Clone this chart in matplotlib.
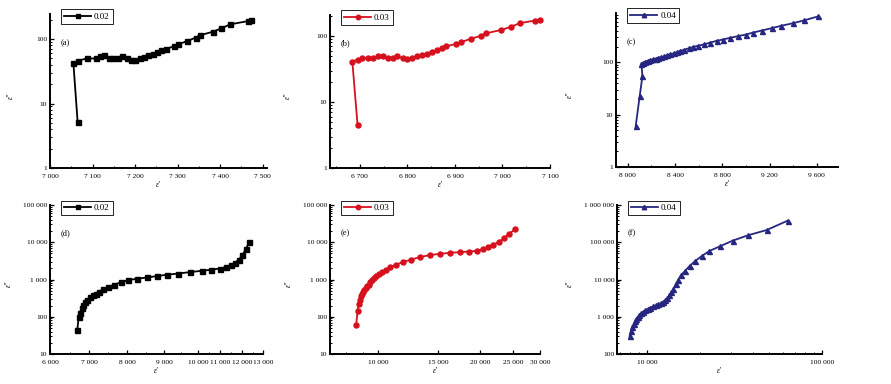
import numpy as np
import matplotlib
matplotlib.use("Agg")
import matplotlib.pyplot as plt
from matplotlib.ticker import FuncFormatter, FixedLocator, LogLocator, NullFormatter, AutoMinorLocator

plt.rcParams['font.family'] = ['Liberation Serif', 'DejaVu Serif']
plt.rcParams['font.size'] = 5.5

# (a) 0.02, top row
a_x = [7065, 7055, 7065, 7086, 7107, 7118, 7128, 7138, 7149, 7159, 7169, 7180, 7190, 7200, 7211,
       7221, 7231, 7241, 7251, 7261, 7272, 7292, 7302, 7322, 7342, 7353, 7383, 7403, 7423, 7465, 7473]
a_y = [5.1, 42, 46, 50, 50, 54, 56, 51, 51, 51, 54, 50, 48, 48, 50,
       52, 56, 59, 62, 67, 71, 77, 83, 93, 105, 115, 130, 147, 169, 190, 195]

# (b) 0.03, top row
b_x = [6695, 6684, 6695, 6705, 6716, 6727, 6738, 6748, 6759, 6770, 6779, 6790, 6800, 6810, 6821,
       6831, 6842, 6852, 6862, 6873, 6882, 6903, 6913, 6934, 6955, 6966, 6996, 7017, 7037, 7068, 7078]
b_y = [4.5, 41, 44, 46, 46, 46, 49, 50, 46, 46, 49, 46, 45, 46, 49,
       51, 54, 58, 61, 65, 70, 76, 81, 91, 101, 110, 123, 137, 157, 171, 175]

# (c) 0.04, top row
c_x = [8067, 8101, 8124, 8115, 8129, 8149, 8171, 8191, 8213, 8236, 8258, 8284, 8306, 8331, 8360,
       8387, 8415, 8444, 8480, 8516, 8556, 8598, 8648, 8696, 8752, 8803, 8865, 8929, 9000, 9061,
       9134, 9218, 9299, 9400, 9491, 9611]
c_y = [6.1, 23, 55, 93, 97, 103, 108, 111, 114, 118, 123, 127, 130, 136, 143,
       149, 156, 166, 175, 186, 198, 209, 222, 239, 258, 273, 295, 316, 341, 372,
       407, 451, 501, 562, 634, 757]

# (d) 0.02, bottom row
d_x = [6700, 6736, 6769, 6813, 6854, 6905, 6956, 7026, 7097, 7176, 7263, 7376, 7508, 7658, 7834,
       8035, 8262, 8532, 8803, 9079, 9421, 9765, 10168, 10577, 11000, 11273, 11500, 11682, 11864,
       12014, 12190, 12348]
d_y = [45, 98, 130, 171, 210, 248, 285, 330, 375, 420, 475, 545, 625, 720, 840,
       964, 1045, 1132, 1233, 1337, 1449, 1578, 1711, 1820, 1972, 2148, 2430, 2805, 3436,
       4508, 6530, 10450]
# (d) axis is drawn unevenly in the source: tick values and where they sit along the axis
d_scale_val = [5000, 6000, 7000, 8000, 9000, 10000, 11000, 12000, 13000, 14000]
d_scale_pos = [11, 50, 89, 127, 164, 198, 220, 242, 263, 284]

# (e) 0.03, bottom row
e_x = [8600, 8680, 8740, 8800, 8860, 8920, 9010, 9090, 9170, 9260, 9360, 9470, 9600, 9730, 9860,
       10020, 10230, 10540, 10860, 11310, 11810, 12510, 13230, 14170, 15170, 16280, 17400, 18530,
       19540, 20430, 21110, 21850, 22660, 23460, 24270, 25320]
e_y = [60, 139, 219, 286, 350, 396, 448, 507, 588, 649, 734, 831, 964, 1091, 1256,
       1396, 1578, 1820, 2148, 2523, 2926, 3436, 3981, 4508, 4887, 5200, 5430, 5636,
       5875, 6653, 7530, 8670, 10070, 12880, 16480, 22450]

# (f) 0.04, bottom row
f_x = [7910, 8060, 8200, 8340, 8500, 8646, 8800, 9000, 9200, 9450, 9740, 10040, 10400, 10780, 11160,
       11570, 11990, 12360, 12690, 13030, 13380, 13740, 14110, 14540, 15010, 15540, 16470, 17500,
       18800, 20520, 22630, 26030, 30800, 37700, 48300, 63500]
f_y = [304, 414, 541, 639, 755, 871, 985, 1114, 1239, 1342, 1489, 1614, 1750, 1909, 2029,
       2158, 2296, 2489, 2767, 3186, 3837, 4616, 5663, 7570, 9700, 12970, 17220, 23440,
       31400, 42760, 58230, 77830, 110200, 153800, 213300, 378700]

W, H = 891, 384


def box(l, r, t, b):
    return [l / W, 1 - b / H, (r - l) / W, (b - t) / H]


def spaced(v, pos):
    return f"{v:,.0f}".replace(",", " ")


def d_fwd(v):
    return np.interp(v, d_scale_val, d_scale_pos)


def d_inv(p):
    return np.interp(p, d_scale_pos, d_scale_val)


panels = [
    dict(px=(50, 267, 14, 168), lx=15, x=a_x, y=a_y, c='black', m='s', lab='0.02', tag='(a)',
         xlim=(7000, 7510), ylim=(1, 245), xt=[7000, 7100, 7200, 7300, 7400, 7500], xs='linear'),
    dict(px=(330, 550, 15, 168), lx=292, x=b_x, y=b_y, c='#d7101e', m='o', lab='0.03', tag='(b)',
         xlim=(6637, 7100), ylim=(1, 208), xt=[6700, 6800, 6900, 7000, 7100], xs='linear'),
    dict(px=(616, 838, 13, 167), lx=574, x=c_x, y=c_y, c='#262680', m='^', lab='0.04', tag='(c)',
         xlim=(7900, 9780), ylim=(1, 880), xt=[8000, 8400, 8800, 9200, 9600], xs='linear'),
    dict(px=(50, 263, 205, 354), lx=13, x=d_x, y=d_y, c='black', m='s', lab='0.02', tag='(d)',
         xlim=(6000, 13000), ylim=(10, 100000), xt=list(range(6000, 13001, 1000)), xs='func'),
    dict(px=(330, 540, 205, 354), lx=293, x=e_x, y=e_y, c='#d7101e', m='o', lab='0.03', tag='(e)',
         xlim=(7200, 30000), ylim=(10, 100000), xt=[10000, 15000, 20000, 25000, 30000], xs='log'),
    dict(px=(617, 822, 205, 354), lx=574, x=f_x, y=f_y, c='#262680', m='^', lab='0.04', tag='(f)',
         xlim=(6700, 100000), ylim=(100, 1000000), xt=[10000, 100000], xs='log'),
]

fig = plt.figure(figsize=(W / 100, H / 100), dpi=100)

for p in panels:
    l, r, t, b = p['px']
    ax = fig.add_axes(box(l, r, t, b))
    ax.plot(p['x'], p['y'], color=p['c'], marker=p['m'], markersize=3.6, linewidth=1.3,
            label=p['lab'])
    ax.set_yscale('log')
    if p['xs'] == 'log':
        ax.set_xscale('log')
        ax.xaxis.set_minor_locator(LogLocator(base=10, subs=np.arange(2, 10), numticks=20))
        ax.xaxis.set_minor_formatter(NullFormatter())
    elif p['xs'] == 'func':
        ax.set_xscale('function', functions=(d_fwd, d_inv))
        ax.xaxis.set_minor_locator(FixedLocator(np.arange(6500, 13000, 1000)))
        ax.xaxis.set_minor_formatter(NullFormatter())
    else:
        ax.xaxis.set_minor_locator(AutoMinorLocator(2))
    ax.set_xlim(*p['xlim'])
    ax.set_ylim(*p['ylim'])
    ax.xaxis.set_major_locator(FixedLocator(p['xt']))
    ax.xaxis.set_major_formatter(FuncFormatter(spaced))
    ax.yaxis.set_major_locator(LogLocator(base=10, numticks=10))
    ax.yaxis.set_major_formatter(FuncFormatter(spaced))
    ax.yaxis.set_minor_locator(LogLocator(base=10, subs=np.arange(2, 10), numticks=20))
    ax.yaxis.set_minor_formatter(NullFormatter())
    for s in ['top', 'right']:
        ax.spines[s].set_visible(False)
    for s in ['left', 'bottom']:
        ax.spines[s].set_linewidth(1.4)
    ax.tick_params(which='major', direction='in', length=3, width=0.9, labelsize=5.4)
    ax.tick_params(axis='x', which='major', pad=4)
    ax.tick_params(axis='y', which='major', pad=2)
    ax.tick_params(which='minor', direction='in', length=1.6, width=0.7)
    ax.set_xlabel("ε'", fontsize=5.5, style='italic', labelpad=2)
    ax.set_ylabel("ε''", fontsize=5.5, style='italic')
    ax.yaxis.set_label_coords((p['lx'] - l) / (r - l), 0.47)
    ax.text(0.05, 0.80, p['tag'], transform=ax.transAxes, fontsize=6)
    leg = ax.legend(loc='upper left', bbox_to_anchor=(0.03, 1.06), fontsize=6.5, handlelength=3,
                    fancybox=False, edgecolor='black', framealpha=1, borderpad=0.35,
                    handletextpad=0.3, markerscale=0.9)
    leg.get_frame().set_linewidth(0.6)

fig.savefig('out.png', dpi=100)
